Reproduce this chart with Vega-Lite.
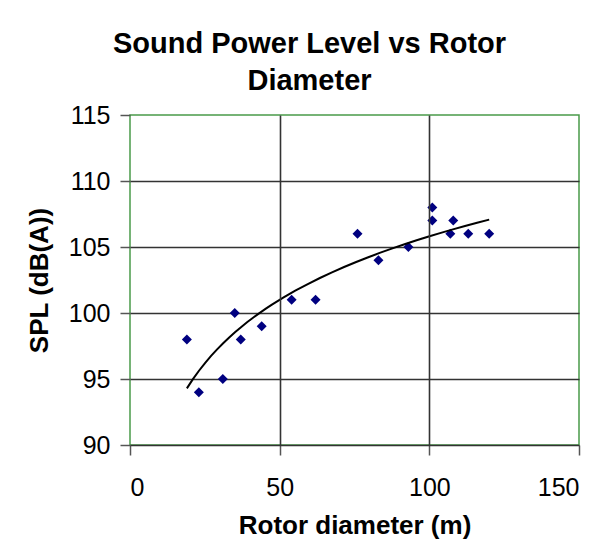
{
  "$schema": "https://vega.github.io/schema/vega-lite/v6.json",
  "width": 449,
  "height": 330,
  "autosize": {"type": "none"},
  "padding": {"left": 130, "top": 115, "right": 24, "bottom": 97},
  "background": "white",
  "title": {
    "text": ["Sound Power Level vs Rotor", "Diameter"],
    "font": "Liberation Sans",
    "fontSize": 29,
    "fontWeight": "bold",
    "color": "black",
    "lineHeight": 37,
    "anchor": "middle",
    "dx": -45,
    "offset": 7
  },
  "data": {
    "values": [
      {"d": 19, "spl": 98},
      {"d": 23, "spl": 94},
      {"d": 31, "spl": 95},
      {"d": 35, "spl": 100},
      {"d": 37, "spl": 98},
      {"d": 44, "spl": 99},
      {"d": 54, "spl": 101},
      {"d": 62, "spl": 101},
      {"d": 76, "spl": 106},
      {"d": 83, "spl": 104},
      {"d": 93, "spl": 105},
      {"d": 101, "spl": 108},
      {"d": 101, "spl": 107},
      {"d": 108, "spl": 107},
      {"d": 107, "spl": 106},
      {"d": 113, "spl": 106},
      {"d": 120, "spl": 106}
    ]
  },
  "encoding": {
    "x": {
      "field": "d",
      "type": "quantitative",
      "scale": {"domain": [0, 150], "nice": false, "zero": false},
      "axis": {
        "title": "Rotor diameter (m)",
        "values": [0, 50, 100, 150],
        "grid": true,
        "gridColor": {"condition": {"test": "datum.value === 0 || datum.value === 150", "value": "transparent"}, "value": "#333333"},
        "gridWidth": 1.6,
        "domain": true,
        "domainColor": "#333333",
        "domainWidth": 1.6,
        "tickColor": "#555555",
        "tickWidth": 1.5,
        "tickSize": 10,
        "labelPadding": 20,
        "labelFont": "Liberation Sans",
        "labelFontSize": 25,
        "labelColor": "black",
        "titleFont": "Liberation Sans",
        "titleFontSize": 26,
        "titleFontWeight": "bold",
        "titleColor": "black",
        "titlePadding": 12,
        "zindex": 1
      }
    },
    "y": {
      "field": "spl",
      "type": "quantitative",
      "scale": {"domain": [90, 115], "nice": false, "zero": false},
      "axis": {
        "title": "SPL (dB(A))",
        "values": [90, 95, 100, 105, 110, 115],
        "grid": true,
        "gridColor": {"condition": {"test": "datum.value === 90 || datum.value === 115", "value": "transparent"}, "value": "#333333"},
        "gridWidth": 1.6,
        "domain": false,
        "tickColor": "#555555",
        "tickWidth": 1.5,
        "tickSize": 10,
        "labelPadding": 10,
        "labelFont": "Liberation Sans",
        "labelFontSize": 25,
        "labelColor": "black",
        "titleFont": "Liberation Sans",
        "titleFontSize": 26,
        "titleFontWeight": "bold",
        "titleColor": "black",
        "titlePadding": 16
      }
    }
  },
  "layer": [
    {
      "mark": {"type": "point", "shape": "diamond", "filled": true, "color": "#000080", "opacity": 1, "size": 100}
    },
    {
      "transform": [{"regression": "spl", "on": "d", "method": "log"}],
      "mark": {"type": "line", "color": "black", "strokeWidth": 2}
    }
  ],
  "config": {
    "view": {"stroke": "#4a9a4a", "strokeWidth": 1.5}
  }
}
